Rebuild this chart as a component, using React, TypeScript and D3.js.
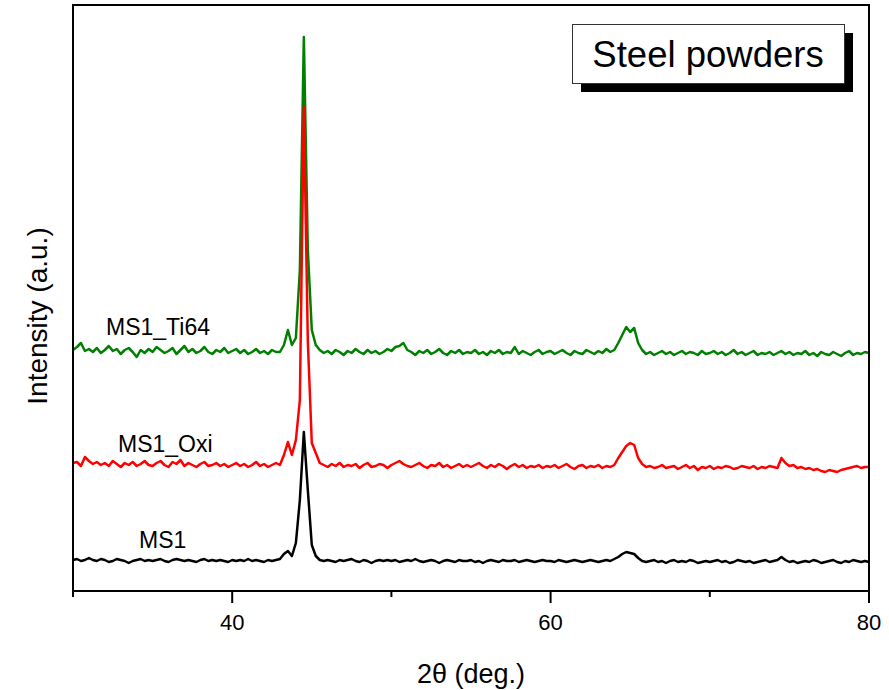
import React, { useRef, useEffect } from 'react';
import * as d3 from 'd3';

// 2-theta grid, 30..80 deg in 0.25 deg steps
const twoTheta: number[] = d3.range(0, 201).map(i => 30 + i * 0.25);

const seriesNames = ['MS1', 'MS1_Oxi', 'MS1_Ti64'];
const seriesColors = ['#000000', '#ff0000', '#008000'];
const seriesOffsets = [0, 95, 208]; // vertical stacking offset (a.u.)

const ms1: number[] = [
  31, 32, 30, 31, 33, 31, 30, 32, 31, 29, 30, 32, 31, 30, 28, 30, 31, 32, 30, 31,
  30, 31, 32, 30, 29, 31, 32, 31, 30, 31, 30, 29, 31, 32, 30, 31, 30, 31, 30, 29,
  31, 30, 31, 30, 32, 30, 31, 30, 29, 31, 30, 31, 32, 37, 40, 35, 48, 91, 159, 101,
  46, 35, 31, 30, 31, 30, 29, 31, 30, 31, 32, 30, 29, 31, 30, 28, 30, 31, 30, 31,
  30, 31, 29, 30, 31, 30, 32, 30, 29, 30, 31, 30, 28, 30, 31, 30, 29, 31, 30, 30,
  31, 29, 30, 28, 30, 31, 30, 29, 31, 30, 30, 31, 29, 30, 31, 30, 29, 30, 31, 30,
  30, 29, 31, 30, 29, 30, 31, 30, 29, 30, 31, 30, 29, 30, 31, 30, 32, 34, 37, 39,
  38, 37, 33, 30, 29, 30, 31, 29, 30, 28, 30, 31, 29, 30, 29, 31, 30, 28, 29, 30,
  29, 30, 31, 29, 30, 28, 29, 31, 30, 29, 30, 28, 29, 30, 31, 29, 30, 31, 34, 31,
  29, 30, 28, 29, 30, 29, 31, 30, 28, 29, 30, 31, 29, 28, 30, 29, 31, 30, 29, 30,
  29,
];

const ms1Oxi: number[] = [
  33, 34, 30, 39, 35, 32, 34, 31, 33, 30, 35, 32, 29, 33, 31, 34, 30, 32, 35, 31,
  30, 33, 35, 31, 29, 34, 32, 36, 30, 33, 31, 29, 32, 34, 30, 31, 33, 30, 32, 29,
  31, 33, 30, 32, 29, 31, 34, 30, 32, 29, 31, 33, 31, 41, 54, 41, 56, 96, 389, 155,
  53, 43, 33, 31, 29, 32, 30, 33, 29, 31, 30, 32, 28, 31, 33, 29, 30, 32, 31, 28,
  31, 33, 35, 32, 30, 29, 31, 33, 30, 28, 31, 30, 33, 29, 31, 28, 30, 32, 29, 31,
  29, 31, 33, 30, 28, 31, 29, 32, 30, 27, 30, 32, 29, 31, 28, 30, 29, 31, 28, 30,
  29, 31, 28, 30, 32, 29, 27, 30, 31, 28, 30, 29, 31, 28, 30, 29, 31, 38, 44, 50,
  53, 51, 38, 32, 29, 30, 28, 29, 31, 28, 29, 30, 27, 29, 31, 28, 30, 26, 29, 28,
  30, 27, 29, 28, 30, 29, 27, 28, 30, 29, 28, 30, 27, 29, 28, 30, 29, 28, 38, 33,
  30, 31, 28, 29, 27, 28, 26, 27, 25, 24, 26, 25, 24, 26, 27, 28, 29, 30, 28, 29,
  29,
];

const ms1Ti64: number[] = [
  33, 36, 40, 32, 34, 31, 35, 30, 33, 37, 32, 34, 29, 33, 35, 31, 26, 33, 30, 34,
  31, 36, 33, 30, 32, 35, 29, 33, 37, 31, 34, 30, 32, 36, 31, 29, 33, 31, 35, 30,
  32, 34, 30, 33, 29, 31, 34, 30, 32, 29, 33, 31, 31, 38, 53, 38, 45, 113, 346, 133,
  53, 38, 33, 30, 32, 29, 33, 31, 28, 32, 30, 34, 31, 29, 33, 30, 32, 29, 31, 34,
  32, 36, 37, 40, 33, 31, 28, 32, 30, 33, 29, 31, 34, 30, 28, 32, 30, 33, 29, 31,
  30, 33, 29, 31, 28, 32, 30, 33, 29, 31, 30, 36, 29, 32, 30, 28, 31, 33, 29, 31,
  32, 29, 31, 33, 30, 28, 32, 30, 29, 33, 31, 29, 32, 30, 34, 31, 33, 40, 48, 56,
  51, 55, 40, 33, 29, 31, 28, 30, 32, 29, 31, 28, 30, 32, 29, 31, 30, 28, 32, 29,
  30, 32, 29, 31, 28, 30, 33, 29, 31, 28, 30, 32, 28, 30, 29, 31, 28, 30, 32, 29,
  31, 28, 30, 29, 32, 28, 30, 27, 31, 29, 28, 31, 29, 27, 30, 32, 28, 30, 29, 31,
  30,
];

const majorTicks = [40, 60, 80];
const minorTicks = [30, 50, 70];

const XRDChart = () => {
  const svgRef = useRef<SVGSVGElement>(null);

  useEffect(() => {
    document.body.style.margin = '0';
    const svg = d3.select(svgRef.current);
    svg.selectAll('*').remove();

    const font = '"Liberation Sans", Arial, sans-serif';
    const left = 73, right = 869, top = 5, bottom = 591;

    const x = d3.scaleLinear().domain([30, 80]).range([left, right]);
    const y = d3.scaleLinear().domain([0, bottom - top]).range([bottom, top]);

    const series = [ms1, ms1Oxi, ms1Ti64].map((vals, k) => ({
      name: seriesNames[k],
      color: seriesColors[k],
      points: vals.map((v, i) => ({ a: twoTheta[i], v: v + seriesOffsets[k] })),
    }));

    const line = d3.line<{ a: number; v: number }>()
      .x(d => x(d.a))
      .y(d => y(d.v));

    // draw order: green first, red over it, black on top of red peak
    [2, 1, 0].forEach(k => {
      svg.append('path')
        .datum(series[k].points)
        .attr('fill', 'none')
        .attr('stroke', series[k].color)
        .attr('stroke-width', 2.5)
        .attr('stroke-linejoin', 'round')
        .attr('d', line);
    });

    // frame
    svg.append('rect')
      .attr('x', left)
      .attr('y', top)
      .attr('width', right - left)
      .attr('height', bottom - top)
      .attr('fill', 'none')
      .attr('stroke', '#000')
      .attr('stroke-width', 2);

    // bottom ticks
    svg.append('g').selectAll('line')
      .data(majorTicks)
      .join('line')
      .attr('x1', d => x(d)).attr('x2', d => x(d))
      .attr('y1', bottom).attr('y2', bottom + 12)
      .attr('stroke', '#000').attr('stroke-width', 2);

    svg.append('g').selectAll('line')
      .data(minorTicks)
      .join('line')
      .attr('x1', d => x(d)).attr('x2', d => x(d))
      .attr('y1', bottom).attr('y2', bottom + 6)
      .attr('stroke', '#000').attr('stroke-width', 2);

    svg.append('g').selectAll('text')
      .data(majorTicks)
      .join('text')
      .attr('x', d => x(d))
      .attr('y', 630)
      .attr('text-anchor', 'middle')
      .attr('font-family', font)
      .attr('font-size', 22)
      .attr('fill', '#000')
      .text(d => d);

    // axis titles
    svg.append('text')
      .attr('x', 471)
      .attr('y', 683)
      .attr('text-anchor', 'middle')
      .attr('font-family', font)
      .attr('font-size', 27)
      .text('2θ (deg.)');

    svg.append('text')
      .attr('transform', 'translate(47,316) rotate(-90)')
      .attr('text-anchor', 'middle')
      .attr('font-family', font)
      .attr('font-size', 28)
      .text('Intensity (a.u.)');

    // series labels
    const labelPos = [
      { x: 139, y: 548 },
      { x: 118, y: 452 },
      { x: 106, y: 335 },
    ];
    series.forEach((s, k) => {
      svg.append('text')
        .attr('x', labelPos[k].x)
        .attr('y', labelPos[k].y)
        .attr('font-family', font)
        .attr('font-size', 23)
        .attr('fill', '#000')
        .text(s.name);
    });

    // title box with shadow
    svg.append('rect')
      .attr('x', 581).attr('y', 33)
      .attr('width', 272).attr('height', 59)
      .attr('fill', '#000');
    svg.append('rect')
      .attr('x', 572.5).attr('y', 24.5)
      .attr('width', 272).attr('height', 59)
      .attr('fill', '#fff')
      .attr('stroke', '#333')
      .attr('stroke-width', 1);
    svg.append('text')
      .attr('x', 708)
      .attr('y', 67)
      .attr('text-anchor', 'middle')
      .attr('font-family', font)
      .attr('font-size', 36.5)
      .text('Steel powders');
  }, []);

  return <svg ref={svgRef} width={889} height={690} style={{ display: 'block' }}></svg>;
};

export default function App() {
  return <XRDChart />;
}
